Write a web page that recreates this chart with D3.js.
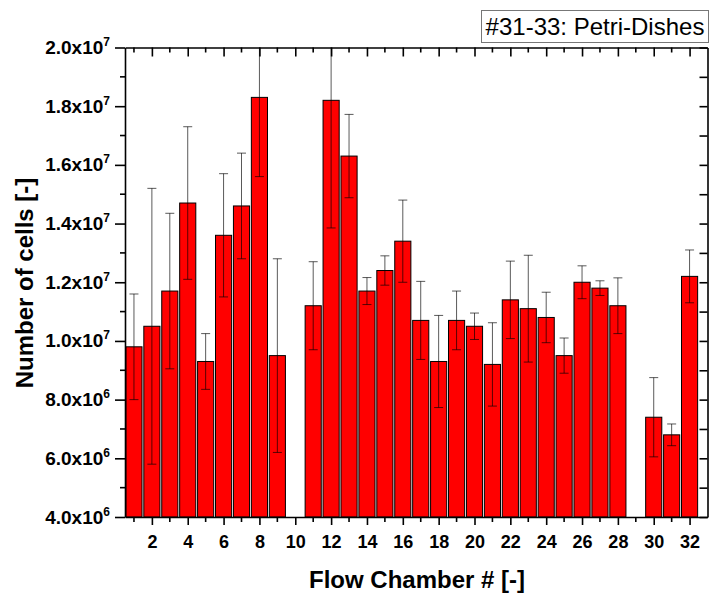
<!DOCTYPE html>
<html>
<head>
<meta charset="utf-8">
<script src="https://cdn.jsdelivr.net/npm/d3@7"></script>
<style>
  html, body { margin: 0; padding: 0; background: #fff; }
  svg { display: block; font-family: "Liberation Sans", Arial, sans-serif; }
</style>
</head>
<body>
<svg id="chart" width="710" height="594"></svg>
<script>
// Flow chamber numbers
const chambers = [1,2,3,4,5,6,7,8,9,10,11,12,13,14,15,16,17,18,19,20,21,22,23,24,25,26,27,28,29,30,31,32];
// Mean cell counts (null = no measurement)
const cellCounts = [9.8e6, 10.5e6, 11.7e6, 14.7e6, 9.3e6, 13.6e6, 14.6e6, 18.3e6, 9.5e6, null,
                    11.2e6, 18.2e6, 16.3e6, 11.7e6, 12.4e6, 13.4e6, 10.7e6, 9.3e6, 10.7e6, 10.5e6,
                    9.2e6, 11.4e6, 11.1e6, 10.8e6, 9.5e6, 12.0e6, 11.8e6, 11.2e6, null, 7.4e6,
                    6.8e6, 12.2e6];
// Standard deviations
const cellErrors = [1.8e6, 4.7e6, 2.65e6, 2.6e6, 0.95e6, 2.1e6, 1.8e6, 2.7e6, 3.3e6, null,
                    1.5e6, 4.35e6, 1.42e6, 0.46e6, 0.5e6, 1.4e6, 1.33e6, 1.57e6, 1.0e6, 0.45e6,
                    1.42e6, 1.32e6, 1.82e6, 0.86e6, 0.6e6, 0.56e6, 0.25e6, 0.95e6, null, 1.35e6,
                    0.37e6, 0.9e6];
// Axis ticks
const yMajorTicks = [4e6, 6e6, 8e6, 10e6, 12e6, 14e6, 16e6, 18e6, 20e6];
const yMinorTicks = [5e6, 7e6, 9e6, 11e6, 13e6, 15e6, 17e6, 19e6];
const xMajorTicks = [2,4,6,8,10,12,14,16,18,20,22,24,26,28,30,32];
const xMinorTicks = [1,3,5,7,9,11,13,15,17,19,21,23,25,27,29,31];
const legendLabel = "#31-33: Petri-Dishes";

const svg = d3.select("#chart");
const plot = { left: 125, right: 707.5, top: 47.5, bottom: 517 };

const x = d3.scaleLinear().domain([0.5, 33]).range([plot.left, plot.right]);
const y = d3.scaleLinear().domain([4e6, 2e7]).range([plot.bottom, plot.top]);
const barW = x(1.9) - x(1);

svg.append("defs").append("clipPath").attr("id", "plotClip")
  .append("rect")
  .attr("x", plot.left).attr("y", plot.top)
  .attr("width", plot.right - plot.left).attr("height", plot.bottom - plot.top);

const data = chambers.map((c, i) => ({ c, v: cellCounts[i], e: cellErrors[i] }))
  .filter(d => d.v != null);

const g = svg.append("g").attr("clip-path", "url(#plotClip)");

// Bars
g.selectAll("rect.bar").data(data).join("rect")
  .attr("class", "bar")
  .attr("x", d => x(d.c) - barW / 2)
  .attr("y", d => y(d.v))
  .attr("width", barW)
  .attr("height", d => y(4e6) - y(d.v))
  .attr("fill", "#ff0000")
  .attr("stroke", "#000")
  .attr("stroke-width", 1);

// Error bars
const capHalf = 4.5;
const eb = g.selectAll("g.err").data(data.filter(d => d.e != null)).join("g")
  .attr("class", "err")
  .attr("stroke", "#000")
  .attr("stroke-opacity", 0.65)
  .attr("stroke-width", 1);
eb.append("line")
  .attr("x1", d => x(d.c)).attr("x2", d => x(d.c))
  .attr("y1", d => y(d.v - d.e)).attr("y2", d => y(d.v + d.e));
eb.append("line")
  .attr("x1", d => x(d.c) - capHalf).attr("x2", d => x(d.c) + capHalf)
  .attr("y1", d => y(d.v + d.e)).attr("y2", d => y(d.v + d.e));
eb.append("line")
  .attr("x1", d => x(d.c) - capHalf).attr("x2", d => x(d.c) + capHalf)
  .attr("y1", d => y(d.v - d.e)).attr("y2", d => y(d.v - d.e));

// Axes
const axW = 1.6;
// bottom axis: outward ticks
const bottomAxis = svg.append("g").attr("transform", `translate(0,${plot.bottom})`)
  .call(d3.axisBottom(x).tickValues(xMajorTicks).tickSize(8).tickSizeOuter(0).tickPadding(10));
bottomAxis.append("g").selectAll("line").data(xMinorTicks).join("line")
  .attr("x1", d => x(d)).attr("x2", d => x(d)).attr("y1", 0).attr("y2", 5)
  .attr("stroke", "#000");
// top axis: inward ticks
const topAxis = svg.append("g").attr("transform", `translate(0,${plot.top})`)
  .call(d3.axisBottom(x).tickValues(xMajorTicks).tickSize(9).tickSizeOuter(0).tickFormat(""));
topAxis.append("g").selectAll("line").data(xMinorTicks).join("line")
  .attr("x1", d => x(d)).attr("x2", d => x(d)).attr("y1", 0).attr("y2", 5)
  .attr("stroke", "#000");
// left axis: outward ticks
const leftAxis = svg.append("g").attr("transform", `translate(${plot.left},0)`)
  .call(d3.axisLeft(y).tickValues(yMajorTicks).tickSize(10).tickSizeOuter(0).tickFormat(""));
leftAxis.append("g").selectAll("line").data(yMinorTicks).join("line")
  .attr("x1", 0).attr("x2", -5).attr("y1", d => y(d)).attr("y2", d => y(d))
  .attr("stroke", "#000");
// right axis: inward ticks
const rightAxis = svg.append("g").attr("transform", `translate(${plot.right},0)`)
  .call(d3.axisLeft(y).tickValues(yMajorTicks.concat(yMinorTicks)).tickSize(-8).tickSizeOuter(0).tickFormat(""));
rightAxis.selectAll(".tick line").attr("x2", -8);

[bottomAxis, topAxis, leftAxis, rightAxis].forEach(a => {
  a.select(".domain").attr("stroke", "#000").attr("stroke-width", axW);
  a.selectAll("line").attr("stroke", "#000").attr("stroke-width", axW);
});

bottomAxis.selectAll(".tick text")
  .attr("fill", "#000").attr("font-size", 18).attr("font-weight", "bold")
  .attr("font-family", "Liberation Sans, Arial, sans-serif");

// Y tick labels in scientific notation: "m.mx10^e"
const yLabels = svg.append("g");
yMajorTicks.forEach(v => {
  const e = Math.floor(Math.log10(v));
  const m = v / Math.pow(10, e);
  const t = yLabels.append("text")
    .attr("x", 110).attr("y", y(v) + 6.5)
    .attr("text-anchor", "end")
    .attr("font-size", 19).attr("font-weight", "bold").attr("fill", "#000");
  t.append("tspan").text(m.toFixed(1) + "x10");
  t.append("tspan").attr("dy", -8).attr("font-size", 12).text(e);
});

// Axis titles
svg.append("text")
  .attr("x", 417).attr("y", 588)
  .attr("text-anchor", "middle")
  .attr("font-size", 24).attr("font-weight", "bold").attr("fill", "#000")
  .text("Flow Chamber # [-]");
svg.append("text")
  .attr("transform", "translate(33,283) rotate(-90)")
  .attr("text-anchor", "middle")
  .attr("font-size", 24).attr("font-weight", "bold").attr("fill", "#000")
  .text("Number of cells [-]");

// Legend box
svg.append("rect")
  .attr("x", 481.5).attr("y", 10.5).attr("width", 227).attr("height", 32)
  .attr("fill", "#fff").attr("stroke", "#777").attr("stroke-width", 1);
svg.append("text")
  .attr("x", 595).attr("y", 34.5)
  .attr("text-anchor", "middle")
  .attr("font-size", 24).attr("fill", "#000")
  .text(legendLabel);
</script>
</body>
</html>
